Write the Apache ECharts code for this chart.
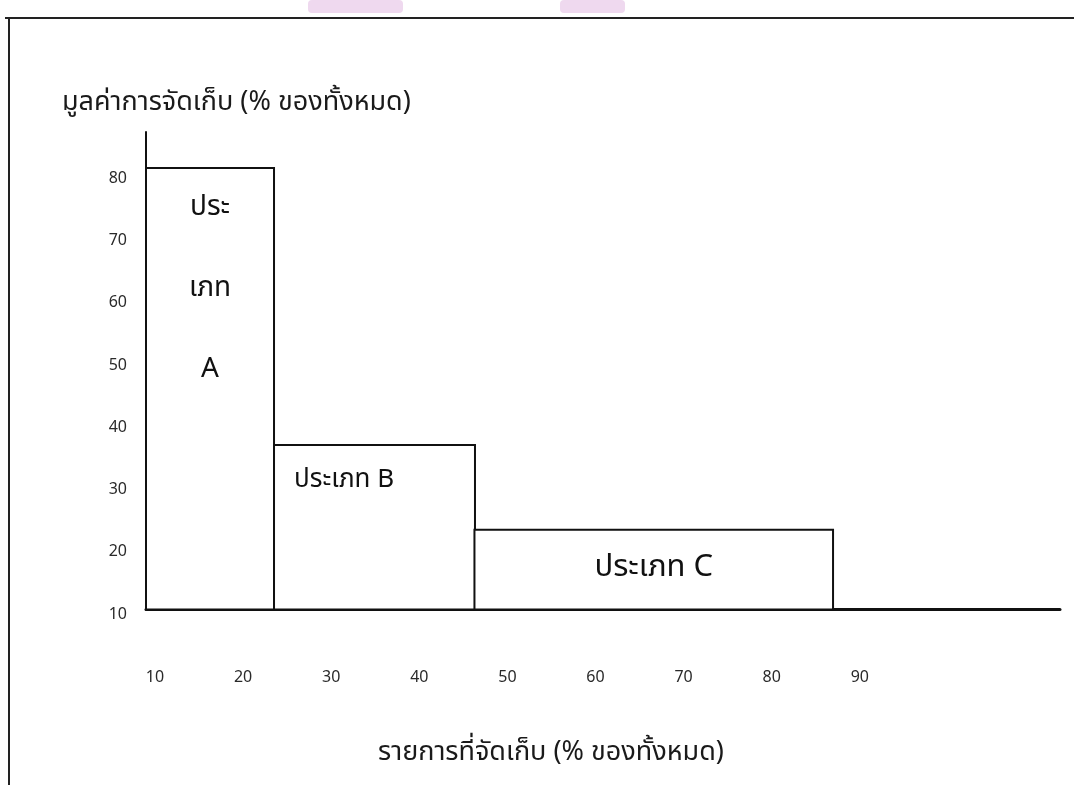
<!DOCTYPE html>
<html>
<head>
<meta charset="utf-8">
<script src="https://cdn.jsdelivr.net/npm/echarts@6/dist/echarts.min.js"></script>
<style>
html,body{margin:0;padding:0;background:#fff;}
#chart{width:1074px;height:785px;}
</style>
</head>
<body>
<div id="chart"></div>
<script>
// ---- data ----
var categories = ['ประเภท A', 'ประเภท B', 'ประเภท C'];
var barLabels = ['ประ\nเภท\nA', 'ประเภท B', 'ประเภท C'];
var xStart = [8.98, 23.51, 46.26];
var xEnd = [23.51, 46.32, 86.96];
var barValues = [80.9, 36.4, 22.8];
var xTickLabels = [10, 20, 30, 40, 50, 60, 70, 80, 90];
var yTickLabels = [10, 20, 30, 40, 50, 60, 70, 80];
var yTitle = 'มูลค่าการจัดเก็บ (% ของทั้งหมด)';
var xTitle = 'รายการที่จัดเก็บ (% ของทั้งหมด)';

var FONT = 'Tahoma, "Noto Sans Thai", "Noto Sans", "DejaVu Sans", sans-serif';
var chart = echarts.init(document.getElementById('chart'), null, {renderer: 'canvas'});

var seriesData = categories.map(function (c, i) {
  return {name: c, value: [xStart[i], xEnd[i], barValues[i], i]};
});

var labelStyles = [
  {pos: 'insideTop', distance: 2, fontSize: 28, lineHeight: 81, align: 'center'},
  {pos: [21, 23], fontSize: 26, lineHeight: 30, align: 'left'},
  {pos: 'inside', fontSize: 31, lineHeight: 34, align: 'center'}
];

var option = {
  backgroundColor: '#fff',
  animation: false,
  title: [
    {text: yTitle, left: 62, top: 88, padding: 0,
     textStyle: {fontFamily: FONT, fontSize: 27, fontWeight: 'normal', color: '#1a1a1a', lineHeight: 34}},
    {text: xTitle, left: 378, top: 738, padding: 0,
     textStyle: {fontFamily: FONT, fontSize: 27, fontWeight: 'normal', color: '#1a1a1a', lineHeight: 34}}
  ],
  grid: {left: 146, right: 14, top: 132, bottom: 175.5, containLabel: false, outerBoundsMode: 'none'},
  xAxis: {
    type: 'value', min: 8.98, max: 112.72,
    axisLine: {show: true, onZero: false, lineStyle: {color: '#111', width: 3}},
    axisTick: {show: false},
    splitLine: {show: false},
    axisLabel: {
      customValues: xTickLabels, margin: 61, lineHeight: 16,
      fontFamily: FONT, fontSize: 16, color: '#2a2a2a'
    }
  },
  yAxis: {
    type: 'value', min: 10, max: 86.66,
    axisLine: {show: true, onZero: false, lineStyle: {color: '#111', width: 2}},
    axisTick: {show: false},
    splitLine: {show: false},
    axisLabel: {
      customValues: yTickLabels, margin: 19, verticalAlign: 'top', lineHeight: 12,
      fontFamily: FONT, fontSize: 16, color: '#2a2a2a'
    }
  },
  series: [{
    type: 'custom',
    data: seriesData,
    clip: false,
    renderItem: function (params, api) {
      var i = api.value(3);
      var p0 = api.coord([api.value(0), api.value(2)]);
      var p1 = api.coord([api.value(1), 10]);
      var ls = labelStyles[i];
      return {
        type: 'rect',
        shape: {x: p0[0], y: p0[1], width: p1[0] - p0[0], height: p1[1] - p0[1]},
        style: {fill: '#fff', stroke: '#111', lineWidth: 2},
        textContent: {
          style: {
            text: barLabels[i], fontFamily: FONT, fontSize: ls.fontSize,
            lineHeight: ls.lineHeight, fill: '#111', align: ls.align
          }
        },
        textConfig: {position: ls.pos, distance: ls.distance || 0}
      };
    }
  }],
  graphic: [
    {type: 'rect', shape: {x: 308, y: 0, width: 95, height: 13, r: 4}, style: {fill: '#efd9ef'}, z: -1},
    {type: 'rect', shape: {x: 560, y: 0, width: 65, height: 13, r: 4}, style: {fill: '#efd9ef'}, z: -1},
    {type: 'line', shape: {x1: 9, y1: 18, x2: 9, y2: 785}, style: {stroke: '#222', lineWidth: 2}},
    {type: 'line', shape: {x1: 5, y1: 18, x2: 1074, y2: 18}, style: {stroke: '#222', lineWidth: 2}}
  ]
};
chart.setOption(option);
</script>
</body>
</html>
